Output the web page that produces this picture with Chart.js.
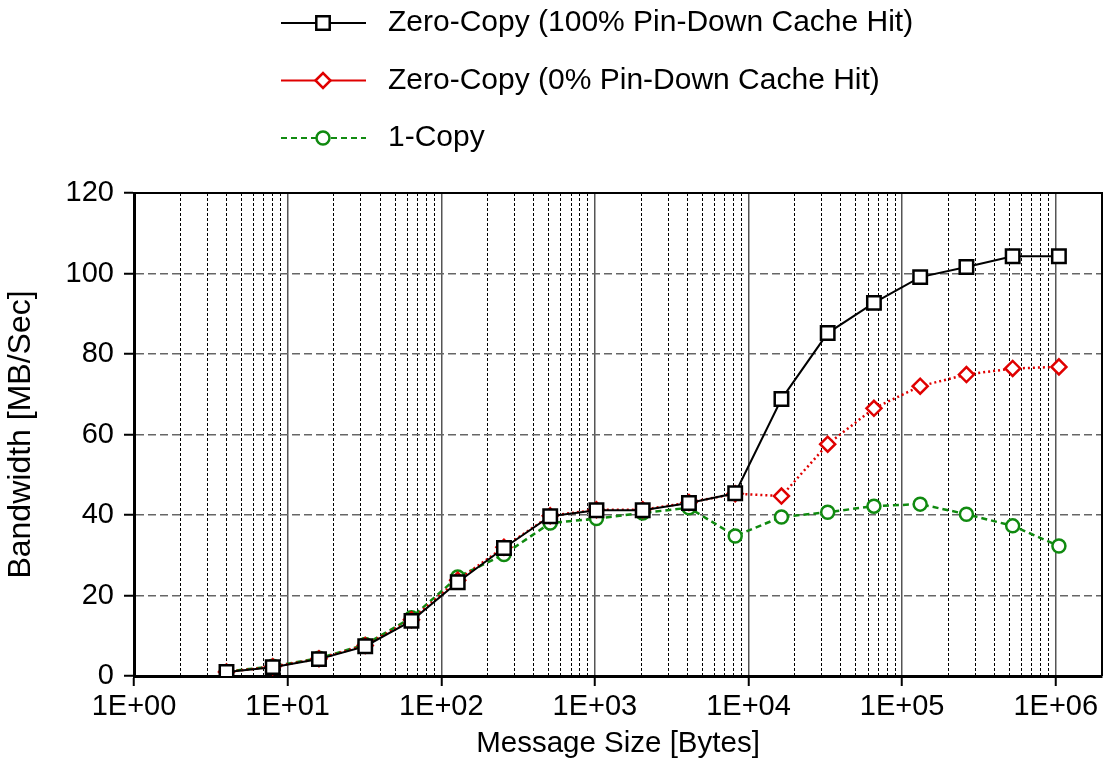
<!DOCTYPE html>
<html>
<head>
<meta charset="utf-8">
<script src="https://cdn.jsdelivr.net/npm/chart.js@4.4.1/dist/chart.umd.min.js"></script>
<style>
    html, body { margin: 0; padding: 0; background: #fff; }
    canvas { display: block; }
</style>
</head>
<body>
<canvas id="bandwidth_chart" width="1104" height="766"></canvas>
<script>
// message sizes in bytes (x) and bandwidth in MB/Sec (y)
var messageSizes = [4, 8, 16, 32, 64, 128, 256, 512, 1024, 2048, 4096, 8192, 16384, 32768, 65536, 131072, 262144, 524288, 1048576];
var zeroCopyHit = [1.0, 2.2, 4.2, 7.4, 13.7, 23.3, 31.8, 39.7, 41.2, 41.2, 43.0, 45.4, 68.8, 85.2, 92.7, 99.1, 101.6, 104.3, 104.3];
var zeroCopyMiss = [1.0, 2.3, 4.3, 7.6, 14.0, 23.8, 32.0, 39.8, 41.3, 41.3, 43.1, 45.3, 44.7, 57.6, 66.5, 72.0, 74.9, 76.4, 76.8];
var oneCopy = [1.1, 2.4, 4.4, 7.8, 14.5, 24.6, 30.2, 38.0, 39.1, 40.5, 41.8, 34.8, 39.5, 40.7, 42.2, 42.7, 40.2, 37.3, 32.3];
var seriesNames = ["Zero-Copy (100% Pin-Down Cache Hit)", "Zero-Copy (0% Pin-Down Cache Hit)", "1-Copy"];
var decades = [1, 10, 100, 1000, 10000, 100000, 1000000];
var decadeLabels = ["1E+00", "1E+01", "1E+02", "1E+03", "1E+04", "1E+05", "1E+06"];

var FONT = "'Liberation Sans', Arial, sans-serif";
Chart.defaults.font.family = FONT;
Chart.defaults.color = '#000';

function points(ys) {
    return messageSizes.map(function (x, i) { return {x: x, y: ys[i]}; });
}

// legend drawn by hand: line sample with the marker in the middle
var legendDashes = [[], [], [6, 4]];
var lineLegend = {
    id: 'lineLegend',
    afterDraw: function (chart) {
        var ctx = chart.ctx;
        chart.data.datasets.forEach(function (ds, i) {
            var y = 23 + i * 57.5;
            ctx.save();
            ctx.strokeStyle = ds.borderColor;
            ctx.lineWidth = 2;
            ctx.setLineDash(legendDashes[i]);
            ctx.beginPath();
            ctx.moveTo(281, y);
            ctx.lineTo(366, y);
            ctx.stroke();
            ctx.setLineDash([]);
            ctx.fillStyle = ds.pointBackgroundColor;
            ctx.strokeStyle = ds.pointBorderColor;
            ctx.lineWidth = ds.pointBorderWidth;
            Chart.helpers.drawPoint(ctx, {
                pointStyle: ds.pointStyle,
                radius: ds.pointRadius,
                rotation: 0,
                borderWidth: ds.pointBorderWidth
            }, 323, y);
            ctx.fillStyle = '#000';
            ctx.font = '30px ' + FONT;
            ctx.textBaseline = 'middle';
            ctx.fillText(ds.label, 388, y);
            ctx.restore();
        });
    }
};

// top and right frame lines
var frame = {
    id: 'frame',
    beforeDatasetsDraw: function (chart) {
        var a = chart.chartArea, ctx = chart.ctx;
        ctx.save();
        ctx.strokeStyle = '#000';
        ctx.lineWidth = 2;
        ctx.beginPath();
        ctx.moveTo(a.left, a.top);
        ctx.lineTo(a.right, a.top);
        ctx.lineTo(a.right, a.bottom);
        ctx.stroke();
        ctx.restore();
    }
};

function renderBandwidth() {
    var context = document.getElementById("bandwidth_chart").getContext('2d');

    new Chart(context, {
        type: 'line',
        data: {
            datasets: [
                {
                    label: seriesNames[0],
                    data: points(zeroCopyHit),
                    borderColor: '#000',
                    borderWidth: 2,
                    pointStyle: 'rect',
                    pointRadius: 9.5,
                    pointBackgroundColor: '#fff',
                    pointBorderColor: '#000',
                    pointBorderWidth: 2.5
                },
                {
                    label: seriesNames[1],
                    data: points(zeroCopyMiss),
                    borderColor: '#e00000',
                    borderWidth: 2.5,
                    borderDash: [2, 3],
                    pointStyle: 'rectRot',
                    pointRadius: 7.5,
                    pointBackgroundColor: '#fff',
                    pointBorderColor: '#e00000',
                    pointBorderWidth: 2.5
                },
                {
                    label: seriesNames[2],
                    data: points(oneCopy),
                    borderColor: '#108a10',
                    borderWidth: 2.5,
                    borderDash: [6, 4],
                    pointStyle: 'circle',
                    pointRadius: 6.5,
                    pointBackgroundColor: '#fff',
                    pointBorderColor: '#108a10',
                    pointBorderWidth: 2.5
                }
            ]
        },
        options: {
            responsive: false,
            animation: false,
            events: [],
            layout: {autoPadding: false, padding: {top: 193, right: 2, left: 0, bottom: 0}},
            plugins: {
                legend: {display: false},
                tooltip: {enabled: false}
            },
            scales: {
                x: {
                    type: 'logarithmic',
                    min: 1,
                    max: 2000000,
                    afterBuildTicks: function (scale) {
                        var ticks = [];
                        decades.forEach(function (d) {
                            for (var m = 1; m <= 9; m++) {
                                if (d * m <= scale.max) ticks.push({value: d * m, major: m === 1});
                            }
                        });
                        scale.ticks = ticks;
                    },
                    afterFit: function (scale) {
                        scale.height = 90;
                        scale.paddingLeft = 0;
                        scale.paddingRight = 0;
                    },
                    ticks: {
                        autoSkip: false,
                        maxRotation: 0,
                        padding: 4,
                        font: {size: 29},
                        callback: function (value) {
                            var k = decades.indexOf(value);
                            return k >= 0 ? decadeLabels[k] : '';
                        }
                    },
                    grid: {
                        color: function (c) { return c.tick && c.tick.major ? '#555' : '#000'; },
                        lineWidth: function (c) { return c.tick && c.tick.major ? 1.5 : 1; },
                        tickLength: 10,
                        tickWidth: 2,
                        tickColor: function (c) { return c.tick && c.tick.major ? '#000' : 'rgba(0,0,0,0)'; }
                    },
                    border: {
                        color: '#000',
                        width: 3,
                        dash: function (c) { return c.tick && !c.tick.major ? [3, 2] : []; }
                    },
                    title: {
                        display: true,
                        text: 'Message Size [Bytes]',
                        font: {size: 29.5},
                        padding: {top: 0, bottom: 4}
                    }
                },
                y: {
                    min: 0,
                    max: 120,
                    afterFit: function (scale) { scale.width = 134; },
                    ticks: {stepSize: 20, padding: 10, font: {size: 29}},
                    grid: {
                        color: '#666',
                        lineWidth: 1.5,
                        tickLength: 10,
                        tickWidth: 2,
                        tickColor: '#000'
                    },
                    border: {
                        color: '#000',
                        width: 3,
                        dash: function (c) { return c.tick ? [8, 4] : []; }
                    },
                    title: {
                        display: true,
                        text: 'Bandwidth [MB/Sec]',
                        font: {size: 32},
                        padding: {top: 2, bottom: 0}
                    }
                }
            }
        },
        plugins: [frame, lineLegend]
    });
}

renderBandwidth();
</script>
</body>
</html>
